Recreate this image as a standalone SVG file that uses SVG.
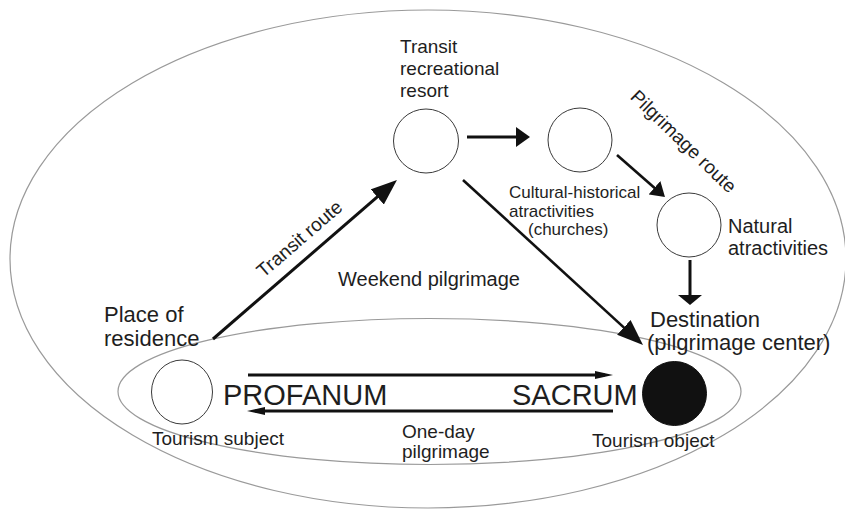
<svg xmlns="http://www.w3.org/2000/svg" width="845" height="509" viewBox="0 0 845 509">
<style>
.bg{fill:none;stroke:#9a9a9a;stroke-width:1.2}
.node{fill:#fff;stroke:#3a3a3a;stroke-width:1}
.solid{fill:#111;stroke:#111;stroke-width:1}
.ln{fill:none;stroke:#111;stroke-width:3}
.ln2{fill:none;stroke:#111;stroke-width:2.6}
text{font-family:"Liberation Sans",Arial,sans-serif;fill:#1e1e1e}
.t19{font-size:19px}
.t17{font-size:17px}
.t20{font-size:20px}
.t22{font-size:22px}
.big{font-size:29px}
</style>
<defs>
<marker id="headL" markerUnits="userSpaceOnUse" viewBox="0 0 26 20" refX="18" refY="10" markerWidth="26" markerHeight="20" orient="auto"><path d="M0,0 L26,10 L0,20 z" fill="#111"/></marker>
<marker id="headM" markerUnits="userSpaceOnUse" viewBox="0 0 14 20" refX="9" refY="10" markerWidth="14" markerHeight="20" orient="auto"><path d="M0,0 L14,10 L0,20 z" fill="#111"/></marker>
<marker id="headS" markerUnits="userSpaceOnUse" viewBox="0 0 14 18" refX="9" refY="9" markerWidth="14" markerHeight="18" orient="auto"><path d="M0,0 L14,9 L0,18 z" fill="#111"/></marker>
<marker id="headF" markerUnits="userSpaceOnUse" viewBox="0 0 10 24" refX="6" refY="12" markerWidth="10" markerHeight="24" orient="auto"><path d="M0,0 L10,12 L0,24 z" fill="#111"/></marker>
<marker id="headT" markerUnits="userSpaceOnUse" viewBox="0 0 18 8" refX="10" refY="4" markerWidth="18" markerHeight="8" orient="auto"><path d="M0,0 L18,4 L0,8 z" fill="#111"/></marker>
</defs>
<rect width="845" height="509" fill="#fff"/>
<g id="frame">
<ellipse class="bg" cx="428" cy="259" rx="418" ry="249"/>
<ellipse class="bg" cx="429.5" cy="391.5" rx="311.5" ry="73"/>
</g>
<g id="connectors">
<line class="ln" x1="213" y1="339" x2="390.9" y2="185.2" marker-end="url(#headL)"/>
<line class="ln2" x1="463" y1="180" x2="637.1" y2="339.6" marker-end="url(#headL)"/>
<line class="ln" x1="467" y1="137" x2="525" y2="137" marker-end="url(#headM)"/>
<line class="ln2" x1="617" y1="155" x2="661.2" y2="193.7" marker-end="url(#headS)"/>
<line class="ln" x1="690" y1="260" x2="690" y2="301" marker-end="url(#headF)"/>
<line class="ln" x1="248" y1="375" x2="605" y2="375" marker-end="url(#headT)"/>
<line class="ln" x1="613" y1="411" x2="255" y2="411" marker-end="url(#headT)"/>
<text class="t19" text-anchor="middle" transform="rotate(-40.8 303.7 243.7)" x="303.7" y="243.7">Transit route</text>
<text class="t19" text-anchor="middle" transform="rotate(44 679 146)" x="679" y="146">Pilgrimage route</text>
<text class="t20" x="338" y="286">Weekend pilgrimage</text>
<text class="t19" x="402" y="438">One-day</text>
<text class="t19" x="402" y="458">pilgrimage</text>
</g>
<g id="transit-resort">
<ellipse class="node" cx="426" cy="141" rx="32.5" ry="32"/>
<text class="t19" x="400" y="53">Transit</text>
<text class="t19" x="400" y="75">recreational</text>
<text class="t19" x="400" y="97">resort</text>
</g>
<g id="cultural">
<ellipse class="node" cx="580" cy="140" rx="32" ry="32"/>
<text class="t17" x="509" y="198">Cultural-historical</text>
<text class="t17" x="509" y="217">atractivities</text>
<text class="t17" x="528" y="235">(churches)</text>
</g>
<g id="natural">
<ellipse class="node" cx="689" cy="225" rx="32" ry="32"/>
<text class="t20" x="728" y="233">Natural</text>
<text class="t20" x="728" y="255">atractivities</text>
</g>
<g id="residence">
<text class="t22" x="104" y="322">Place of</text>
<text class="t22" x="104" y="346">residence</text>
</g>
<g id="destination">
<text class="t22" x="650" y="327">Destination</text>
<text class="t22" x="647" y="350">(pilgrimage center)</text>
</g>
<g id="tourism-subject">
<ellipse class="node" cx="182" cy="392" rx="30.5" ry="32"/>
<text class="big" x="223" y="405">PROFANUM</text>
<text class="t19" x="152" y="445">Tourism subject</text>
</g>
<g id="tourism-object">
<ellipse class="solid" cx="674.5" cy="393.5" rx="32" ry="32"/>
<text class="big" x="512" y="405">SACRUM</text>
<text class="t19" x="592" y="447">Tourism object</text>
</g>
</svg>
